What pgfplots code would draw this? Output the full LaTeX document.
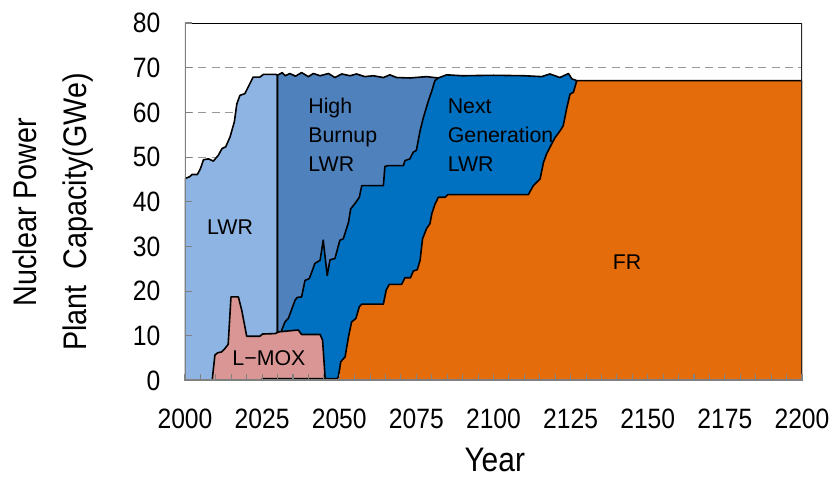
\documentclass[border=0pt]{standalone}
\usepackage{pgfplots}
\pgfplotsset{compat=1.18}
\usepackage{fontspec}
\setmainfont{Liberation Sans}
\newfontfamily\condfont[FakeStretch=0.88]{Liberation Sans}

\definecolor{cLWR}{HTML}{8EB4E3}
\definecolor{cHB}{HTML}{4F81BD}
\definecolor{cNG}{HTML}{0070C0}
\definecolor{cMOX}{HTML}{DA9694}
\definecolor{cFR}{HTML}{E46C0A}

\begin{document}
\begin{tikzpicture}
\begin{axis}[
  scale only axis,
  width=462.75pt, height=268.125pt,
  xmin=2000, xmax=2200, ymin=0, ymax=80,
  xtick={2000,2025,...,2200}, ytick={0,10,...,80},
  minor x tick num=4,
  tick align=inside,
  xtick pos=left, ytick pos=left,
  major tick length=5pt, minor tick length=5pt,
  tick style={draw=gray, line width=0.8pt},
  axis line style={draw=none},
  axis on top,
  /pgf/number format/assume math mode=true,
  /pgf/number format/1000 sep={},
  tick label style={font=\condfont\fontsize{21}{25}\selectfont},
  xticklabel style={yshift=-18pt},
  yticklabel style={xshift=-15pt},
  xlabel={Year},
  xlabel style={at={(axis description cs:0.502,-0.222)}, anchor=center,
    inner sep=0pt, font=\condfont\fontsize{25.5}{28}\selectfont},
  ylabel={Nuclear Power\\Plant\ \ Capacity(GWe)},
  ylabel style={at={(axis description cs:-0.214,0.471)}, anchor=center,
    align=center, font=\condfont\fontsize{24.5}{37.5}\selectfont},
  every axis plot/.append style={draw=black, line width=1.2pt, line join=round},
]
% dashed grid, behind the areas
\pgfplotsinvokeforeach{10,20,30,40,50,60,70}{
  \draw[gray!80, line width=0.8pt, dash pattern=on 6pt off 4pt]
    (axis cs:2000,#1) -- (axis cs:2200,#1);
}

% LWR
\addplot[fill=cLWR] coordinates {
(2000,45.2) (2001.5,45.6) (2002.3,46.1) (2004,46.1) (2005,47.4) (2006,49.4)
(2007.6,49.6) (2009.2,49.1) (2010.8,50.4) (2012,51.9) (2013.2,52.3) (2014.6,54.5)
(2016,57.9) (2016.8,61.9) (2017.8,63.8) (2019.4,64.2) (2020.7,66) (2022.1,67.9)
(2024.3,67.9) (2025.4,68.5) (2029.5,68.5) (2030,68.3)
} \closedcycle;

% High Burnup LWR
\addplot[fill=cHB] coordinates {
(2030,68.3) (2031.5,68.9) (2032.5,68.2) (2034,68.7) (2035.8,68.1) (2037.8,68.9)
(2040,68) (2041.6,68.7) (2043.8,68.2) (2046.5,68.7) (2048.6,67.8) (2050.8,68.6)
(2053.5,68.2) (2055.6,68.6) (2058.3,68) (2061,68.2) (2064.3,67.8) (2066.4,68.4)
(2068.6,67.8) (2072.9,67.7) (2078.3,68) (2082.1,67.7)
} \closedcycle;

% Next Generation LWR
\addplot[fill=cNG] coordinates {
(2031.3,11.2) (2031.6,11.7) (2032.4,13.1) (2033.5,13.9) (2035.7,18) (2036.4,18.6)
(2037.8,18.7) (2038.9,22.4) (2040.3,22.8) (2042.1,26.2) (2043.8,26.9) (2044.8,31.4)
(2046.1,23.5) (2047,27) (2048.6,27.3) (2050.2,31.4) (2051.3,31.7) (2053,35.4)
(2053.7,38.4) (2055.1,39.6) (2056.5,41) (2057.3,43.6) (2064.3,43.6) (2064.8,47.9)
(2065.9,48.1) (2070.8,48.1) (2071.3,49.2) (2072.9,49.6) (2074,51.1) (2075,51.5)
(2076.2,55.9) (2077.3,58.9) (2078.9,62.6) (2080,64.8) (2081,67.1) (2082.1,67.7)
(2084.8,68.4) (2090,68.2) (2100,68.3) (2110,68.2) (2115.6,68) (2118.3,68.6)
(2121.5,67.8) (2124.3,68.7) (2125.4,67.5) (2127,67.1)
} \closedcycle;

% L-MOX
\addplot[fill=cMOX] coordinates {
(2008.8,0) (2009.7,5.7) (2010.6,6.2) (2011.9,6.4) (2013,7.2) (2014,8.1)
(2014.9,18.7) (2017.3,18.7) (2018.4,15.7) (2020,9.9) (2024.3,9.9) (2025.1,10.4)
(2029.2,10.5) (2030.5,10.9) (2036.7,11.3) (2037.8,10.3) (2043.8,10.3) (2044.6,9)
(2045.4,0.8) (2046,0)
} \closedcycle;

% FR
\addplot[fill=cFR] coordinates {
(2025,0.4) (2049.2,0.4) (2049.7,0.8) (2050.5,4.2) (2051.9,5.3) (2053,9.8)
(2054,13.1) (2055.4,13.9) (2056.5,16.5) (2057.3,17.1) (2064.3,17.1) (2065.2,20.2)
(2066.2,21.5) (2070.2,21.5) (2071.3,23) (2073.1,23) (2074,24.5) (2075.3,24.8)
(2076.2,26.9) (2077,31.7) (2078.3,34) (2079.4,35.1) (2080,37.3) (2081,39.4)
(2082.1,41) (2084.3,41) (2085.2,41.6) (2111.3,41.6) (2112.9,43.6) (2115.1,45.1)
(2116.2,48.8) (2117.2,50.7) (2118.3,52.2) (2119.9,54.3) (2121.6,55.9) (2122.6,57)
(2123.7,60.8) (2124.8,64.1) (2125.9,64.5) (2127,67.1) (2200,67.1)
} \closedcycle;

% region labels
\begin{scope}[every node/.style={font=\fontsize{16}{21.75}\selectfont, align=left}]
\node at (axis cs:2014.6,34.3) {LWR};
\node[anchor=north west, inner sep=0pt] at (axis cs:2039.9,63.3) {High\\Burnup\\LWR};
\node[anchor=north west, inner sep=0pt] at (axis cs:2085.1,63.1) {Next\\Generation\\LWR};
\node at (axis cs:2027.2,5) {L−MOX};
\node at (axis cs:2143.3,26.5) {FR};
\end{scope}

% frame
\draw[black, line width=1.3pt] (rel axis cs:0,1) -- (rel axis cs:1,1);
\draw[black!85, line width=1.1pt] (rel axis cs:1,0) -- (rel axis cs:1,1);
\draw[gray, line width=1.6pt] (rel axis cs:0,0) -- (rel axis cs:0,1);
\draw[gray, line width=2.2pt] (rel axis cs:0,0) -- (rel axis cs:1,0);
\end{axis}
\pgfresetboundingbox
\path[use as bounding box] (-138.75pt,-73.875pt) rectangle (484.5pt,285.375pt);
\end{tikzpicture}
\end{document}
